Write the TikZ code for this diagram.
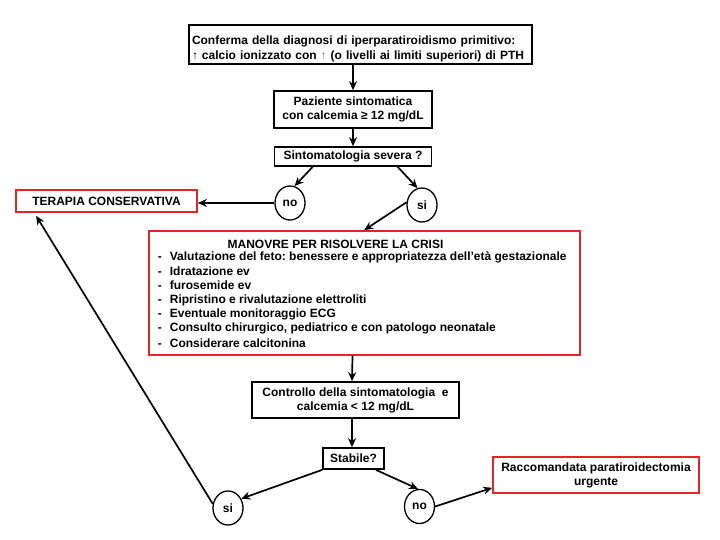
\documentclass[tikz,border=0pt]{standalone}
\usepackage{fontspec}
\setmainfont{Liberation Sans}
\usetikzlibrary{arrows.meta}
\usetikzlibrary{shapes.geometric}

\definecolor{boxred}{RGB}{226,38,38}
\frenchspacing

\begin{document}
\begin{tikzpicture}[
    x=1pt, y=-1pt,
    line width=1.7pt,
    font=\bfseries\fontsize{12}{14}\selectfont,
    box/.style={draw, rectangle, inner sep=0pt, align=center},
    redbox/.style={box, draw=boxred},
    answer/.style={draw, line width=1.3pt, ellipse, inner sep=0pt, minimum width=30pt, minimum height=34pt},
    flow/.style={-{Stealth[length=9pt, width=8pt]}},
    ]
    \useasboundingbox (0,0) rectangle (720,540);
    % boxes of the path
    \node[box, text width=337pt, inner xsep=3pt, minimum height=39pt, align=left] (conf) at (360.5,44.5)
        {\rule{0pt}{17pt}Conferma della diagnosi di iperparatiroidismo primitivo:\\[1pt]
         ↑ calcio ionizzato con {\color{gray}↑} (o livelli ai limiti superiori) di PTH};
    \node[box, minimum width=158pt, minimum height=37pt] (pz) at (353,109.5)
        {Paziente sintomatica\\ con calcemia ≥ 12 mg/dL};
    \node[box, minimum width=157pt, minimum height=19pt] (sev) at (353,156.5) {Sintomatologia severa ?};
    \node[answer] (no1) at (290,203) {no};
    \node[answer] (si1) at (422,205) {si};
    \node[redbox, minimum width=181pt, minimum height=22pt] (tera) at (106.5,201) {TERAPIA CONSERVATIVA};
    \node[redbox, minimum width=431pt, minimum height=124pt] (crisi) at (364.5,293) {};
    \node (titolo) at (335.5,244) {MANOVRE PER RISOLVERE LA CRISI};
    \foreach \voce [count=\i] in {
        Valutazione del feto: benessere e appropriatezza dell’età gestazionale,
        Idratazione ev,
        furosemide ev,
        Ripristino e rivalutazione elettroliti,
        Eventuale monitoraggio ECG,
        {Consulto chirurgico, pediatrico e con patologo neonatale},
        Considerare calcitonina}{
            \node[anchor=west, inner sep=0pt] (voce\i) at (157,242.7+14.3*\i) {\makebox[12pt][l]{-}\voce};
        }
    \node[box, minimum width=207pt, minimum height=36pt] (ctrl) at (355.5,400)
        {Controllo della sintomatologia\ \ e\\ calcemia < 12 mg/dL};
    \node[box, minimum width=61pt, minimum height=21pt] (stab) at (353.5,458.5) {Stabile?};
    \node[answer] (si2) at (228,508) {si};
    \node[answer] (no2) at (419.5,506.5) {no};
    \node[redbox, minimum width=206pt, minimum height=36pt] (rac) at (596,475)
        {Raccomandata paratiroidectomia\\ urgente};
    % connectors
    \draw[flow] (conf.south -| pz.north) -- (pz.north);
    \draw[flow] (pz) -- (sev);
    \draw[flow] ([xshift=39pt]sev.south west) -- (no1.75);
    \draw[flow] ([xshift=124pt]sev.south west) -- (si1.105);
    \draw[flow] (no1.west) -- (no1.west -| tera.east);
    \draw[flow] (si1.170) -- ([xshift=216pt]crisi.north west);
    \draw[flow] ([xshift=-12pt]crisi.south) -- ([xshift=-3.5pt]ctrl.north);
    \draw[flow] ([xshift=-3.5pt]ctrl.south) -- ([xshift=-1.5pt]stab.north);
    \draw[flow] (stab.south west) -- (si2.35);
    \draw[flow] ([xshift=-9pt]stab.south east) -- (no2.95);
    \draw[flow] (no2.east) -- ([yshift=6pt]rac.south west);
    \draw[flow] (si2.165) -- ([xshift=21pt, yshift=-3pt]tera.south west);
\end{tikzpicture}
\end{document}
